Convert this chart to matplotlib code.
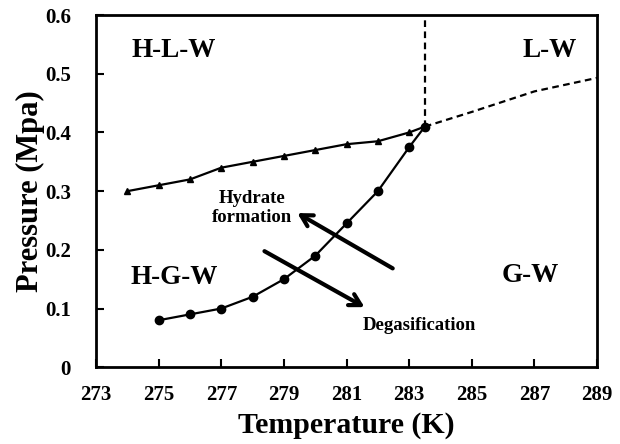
import matplotlib
matplotlib.use("Agg")
import matplotlib.pyplot as plt

# Data
hlw_T = [274, 275, 276, 277, 278, 279, 280, 281, 282, 283, 283.5]
hlw_P = [0.30, 0.31, 0.32, 0.34, 0.35, 0.36, 0.37, 0.38, 0.385, 0.40, 0.41]
hgw_T = [275, 276, 277, 278, 279, 280, 281, 282, 283, 283.5]
hgw_P = [0.08, 0.09, 0.10, 0.12, 0.15, 0.19, 0.245, 0.30, 0.375, 0.41]
lw_T = [283.5, 285, 287, 289]
lw_P = [0.41, 0.435, 0.47, 0.493]
vert_T = [283.5, 283.5]
vert_P = [0.41, 0.6]
xticks = [273, 275, 277, 279, 281, 283, 285, 287, 289]
yticks = [0, 0.1, 0.2, 0.3, 0.4, 0.5, 0.6]
ytick_labels = ["0", "0.1", "0.2", "0.3", "0.4", "0.5", "0.6"]

plt.rcParams['font.family'] = ['Liberation Serif', 'DejaVu Serif']
plt.rcParams['font.weight'] = 'bold'

fig = plt.figure(figsize=(6.2, 4.44), dpi=100)
ax = fig.add_axes([0.155, 0.173, 0.808, 0.793])

ax.plot(hlw_T, hlw_P, color='black', lw=1.6, marker='^', ms=5)
ax.plot(hgw_T, hgw_P, color='black', lw=1.6, marker='o', ms=6)
ax.plot(lw_T, lw_P, color='black', lw=1.6, ls=(0, (3, 2)))
ax.plot(vert_T, vert_P, color='black', lw=1.6, ls=(0, (3, 2)))

ax.set_xlim(273, 289)
ax.set_ylim(0, 0.6)
ax.set_xticks(xticks)
ax.set_xticklabels([str(t) for t in xticks])
ax.set_yticks(yticks)
ax.set_yticklabels(ytick_labels)
ax.tick_params(direction='in', length=6, width=1.5, labelsize=15)
ax.tick_params(axis='x', pad=13)
ax.tick_params(axis='y', pad=18)
for lab in ax.get_xticklabels() + ax.get_yticklabels():
    lab.set_fontweight('bold')
for s in ax.spines.values():
    s.set_linewidth(2)

ax.set_xlabel('Temperature (K)', fontsize=21.5, fontweight='bold', labelpad=5)
ax.set_ylabel('Pressure (Mpa)', fontsize=22, fontweight='bold', labelpad=0)

lab_kw = dict(fontsize=19.5, fontweight='bold', ha='center', va='center')
ax.text(275.49, 0.540, 'H-L-W', **lab_kw)
ax.text(287.5, 0.540, 'L-W', **lab_kw)
ax.text(275.48, 0.153, 'H-G-W', **lab_kw)
ax.text(286.87, 0.157, 'G-W', **lab_kw)

ax.text(277.98, 0.271, 'Hydrate\nformation', fontsize=13.5, fontweight='bold',
        ha='center', va='center', linespacing=1.15)
ax.text(283.32, 0.0716, 'Degasification', fontsize=13.5, fontweight='bold',
        ha='center', va='center')

arrow_kw = dict(arrowstyle='->,head_length=0.8,head_width=0.45', color='black', lw=3)
ax.annotate('', xy=(279.35, 0.265), xytext=(282.55, 0.166), arrowprops=arrow_kw)
ax.annotate('', xy=(281.65, 0.100), xytext=(278.3, 0.200), arrowprops=arrow_kw)

fig.savefig('out.png', dpi=100)
